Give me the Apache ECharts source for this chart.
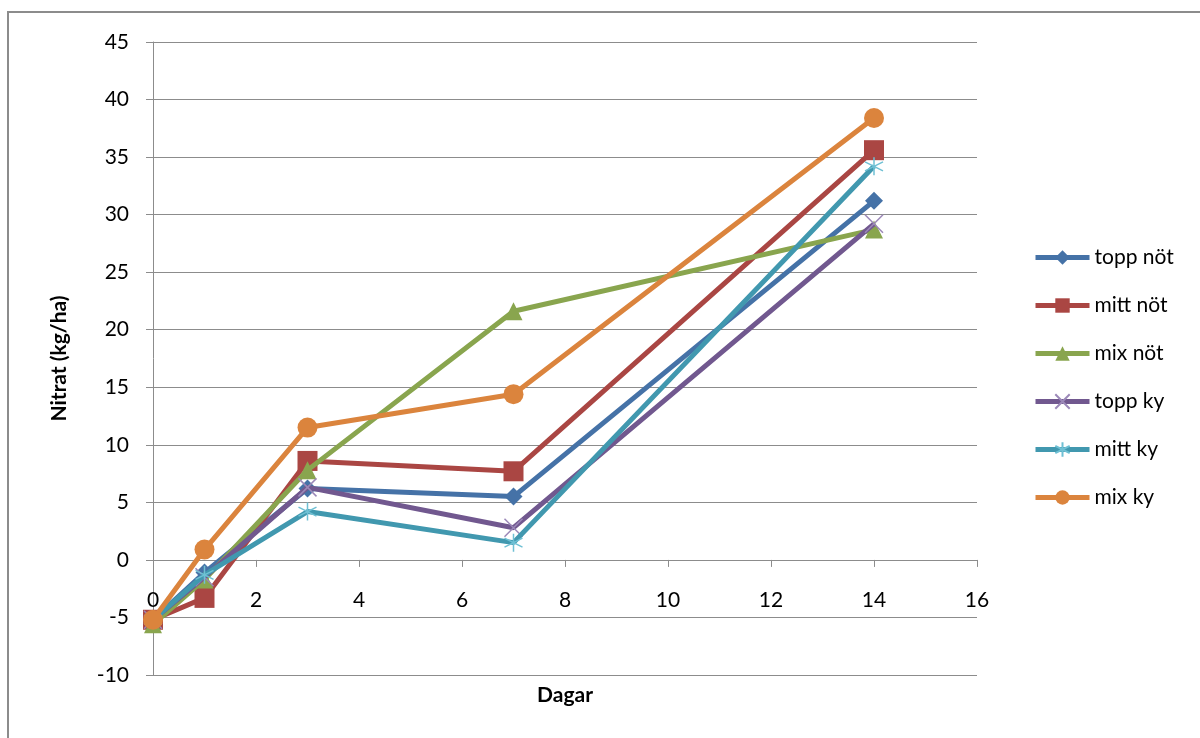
<!DOCTYPE html>
<html>
<head>
<meta charset="utf-8">
<script src="https://cdn.jsdelivr.net/npm/echarts@6/dist/echarts.min.js"></script>
<style>
  html, body { margin: 0; padding: 0; background: #fff; }
  #chart { width: 1200px; height: 738px; }
</style>
</head>
<body>
<div id="chart"></div>
<script>
// Days of sampling
const days = [0, 1, 3, 7, 14];

// Nitrate (kg/ha) per treatment
const toppNot = [-5.2, -1.1, 6.2, 5.5, 31.2];
const mittNot = [-5.2, -3.3, 8.6, 7.7, 35.6];
const mixNot  = [-5.6, -1.7, 7.8, 21.6, 28.7];
const toppKy  = [-5.2, -1.5, 6.3, 2.8, 29.2];
const mittKy  = [-5.2, -1.3, 4.2, 1.5, 34.2];
const mixKy   = [-5.2, 0.9, 11.5, 14.4, 38.4];

const seriesNames = ['topp nöt', 'mitt nöt', 'mix nöt', 'topp ky', 'mitt ky', 'mix ky'];

const xTicks = { min: 0, max: 16, interval: 2 };
const yTicks = { min: -10, max: 45, interval: 5 };

const FONT = 'Lato, "Open Sans", sans-serif';
const GRID_GREY = '#8c8c8c';

const crossPath = 'path://M0,0L10,10M10,0L0,10';
const starPath = 'path://M5,0L5,10M0,2.5L10,7.5M0,7.5L10,2.5';

const styles = [
  { color: '#4572A7', symbol: 'diamond', size: 18 },
  { color: '#AA4643', symbol: 'rect', size: 20 },
  { color: '#89A54E', symbol: 'triangle', size: 18 },
  { color: '#71588F', symbol: crossPath, size: 18, stroke: '#9b88b8' },
  { color: '#4198AF', symbol: starPath, size: 18, stroke: '#6fc0d4' },
  { color: '#DB843D', symbol: 'circle', size: 20 }
];

const values = [toppNot, mittNot, mixNot, toppKy, mittKy, mixKy];

const series = values.map((vals, i) => {
  const s = styles[i];
  const item = s.stroke
    ? { color: s.stroke, borderColor: s.stroke, borderWidth: 1.5 }
    : { color: s.color };
  return {
    name: seriesNames[i],
    type: 'line',
    data: days.map((d, k) => [d, vals[k]]),
    symbol: s.symbol,
    symbolSize: s.size,
    showAllSymbol: true,
    lineStyle: { color: s.color, width: 5 },
    itemStyle: item,
    emphasis: { disabled: true },
    animation: false,
    z: 2 + i
  };
});

const chart = echarts.init(document.getElementById('chart'), null, { renderer: 'canvas' });
chart.setOption({
  backgroundColor: '#ffffff',
  animation: false,
  textStyle: { fontFamily: FONT },
  grid: { left: 153, right: 223, top: 42, bottom: 63, containLabel: false, outerBoundsMode: 'none' },
  graphic: [{
    type: 'rect',
    shape: { x: 8, y: 12, width: 1200, height: 740 },
    style: { fill: 'none', stroke: '#8c8c8c', lineWidth: 2 },
    silent: true,
    z: -1
  }],
  legend: {
    orient: 'vertical',
    left: 1033,
    top: 247,
    padding: 0,
    itemWidth: 54,
    itemHeight: 18,
    itemGap: 27,
    lineStyle: { width: 5 },
    textStyle: { fontFamily: FONT, fontSize: 21, lineHeight: 21, color: '#000' },
    data: seriesNames
  },
  xAxis: {
    type: 'value',
    min: xTicks.min, max: xTicks.max, interval: xTicks.interval,
    name: 'Dagar',
    nameLocation: 'middle',
    nameGap: 10,
    nameTextStyle: { fontFamily: FONT, fontSize: 21, fontWeight: 'bold', color: '#000' },
    axisLine: { show: true, onZero: true, lineStyle: { color: GRID_GREY, width: 1 } },
    axisTick: { show: true, length: 7, lineStyle: { color: GRID_GREY } },
    axisLabel: { margin: -85, fontFamily: FONT, fontSize: 21, color: '#000' },
    splitLine: { show: false }
  },
  yAxis: {
    type: 'value',
    min: yTicks.min, max: yTicks.max, interval: yTicks.interval,
    name: 'Nitrat (kg/ha)',
    nameLocation: 'middle',
    nameGap: 83,
    nameRotate: 90,
    nameTextStyle: { fontFamily: FONT, fontSize: 21, fontWeight: 'bold', color: '#000' },
    axisLine: { show: true, lineStyle: { color: GRID_GREY, width: 1 } },
    axisTick: { show: true, length: 7, lineStyle: { color: GRID_GREY } },
    axisLabel: { margin: 24, fontFamily: FONT, fontSize: 21, color: '#000' },
    splitLine: { show: true, lineStyle: { color: GRID_GREY, width: 1 } }
  },
  series: series
});
</script>
</body>
</html>
